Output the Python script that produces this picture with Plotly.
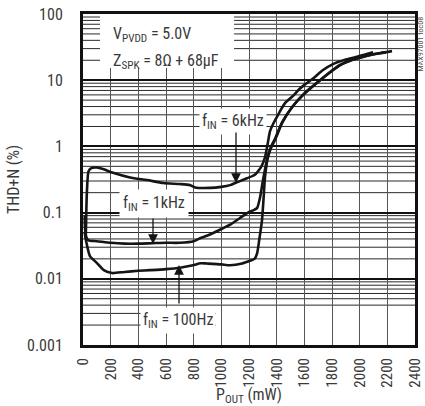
import math
import plotly.graph_objects as go

# ---------------- data ----------------
p_6k = [20, 28, 40, 60, 100, 150, 217, 340, 463, 580, 701, 773, 810, 918, 1000, 1063, 1100,
        1186, 1240, 1265, 1290, 1316, 1335, 1352, 1375, 1402, 1460, 1518, 1554, 1600, 1656,
        1730, 1807, 1900, 2024, 2097]
thd_6k = [0.04, 0.2, 0.42, 0.47, 0.48, 0.45, 0.40, 0.34, 0.31, 0.28, 0.27, 0.26, 0.24, 0.236,
          0.245, 0.26, 0.28, 0.33, 0.37, 0.42, 0.50, 0.69, 1.1, 1.7, 2.2, 2.8, 4.5, 5.8, 7.0,
          8.5, 10.3, 14, 17.5, 20.5, 24, 26.5]

p_1k = [12, 20, 40, 100, 200, 300, 400, 500, 600, 700, 800, 846, 900, 990, 1060, 1135, 1193,
        1230, 1258, 1280, 1300, 1320, 1337, 1360, 1388, 1439, 1511, 1600, 1714, 1800, 1858,
        1950, 2050, 2150, 2190]
thd_1k = [0.09, 0.045, 0.038, 0.037, 0.035, 0.034, 0.034, 0.0345, 0.035, 0.035, 0.037, 0.041,
          0.045, 0.055, 0.065, 0.083, 0.1, 0.108, 0.117, 0.17, 0.3, 0.5, 0.72, 1.0, 1.3, 2.3,
          3.9, 6.2, 10, 13.8, 16.8, 20.3, 23.3, 25.5, 26.3]

p_100 = [12, 25, 50, 101, 150, 210, 300, 400, 484, 600, 701, 795, 850, 896, 1000, 1063, 1150,
         1207, 1240, 1258, 1275, 1294, 1305, 1316, 1337, 1360, 1388, 1439, 1511, 1605, 1714,
         1800, 1858, 1950, 2050, 2150, 2234]
thd_100 = [0.05, 0.035, 0.022, 0.0173, 0.0135, 0.0122, 0.0127, 0.0132, 0.0135, 0.014, 0.0147,
           0.016, 0.0172, 0.017, 0.0165, 0.016, 0.017, 0.0187, 0.02, 0.024, 0.04, 0.077, 0.16,
           0.35, 0.69, 0.95, 1.25, 2.25, 3.9, 6.5, 10, 14, 17, 20.5, 23.5, 25.8, 27.5]

x_ticks = list(range(0, 2401, 200))
y_ticks = [0.001, 0.01, 0.1, 1, 10, 100]
y_tick_text = ["0.001", "0.01", "0.1", "1", "10", "100"]

FONT = "Liberation Sans Narrow, Roboto Condensed, Arial Narrow, DejaVu Sans Condensed, sans-serif"
TXT = "#3a3a3a"

fig = go.Figure()
for px, py in [(p_6k, thd_6k), (p_1k, thd_1k), (p_100, thd_100)]:
    fig.add_trace(go.Scatter(x=px, y=py, mode="lines",
                             line=dict(color="#151515", width=2.6, shape="spline", smoothing=0.6),
                             showlegend=False, hoverinfo="skip"))

# minor horizontal grid lines (log decades), drawn as shapes (data units)
shapes = []
for d in range(-3, 2):
    for m in range(2, 10):
        v = m * 10 ** d
        x1 = 960 if (d == -3 and m in (2, 3)) else 2400
        shapes.append(dict(type="line", xref="x", yref="y", x0=0, x1=x1, y0=v, y1=v,
                           line=dict(color="#2a2a2a", width=1), layer="below"))
# white box behind the conditions text
shapes.append(dict(type="rect", xref="x", yref="y", x0=123, x1=1092, y0=15.3, y1=100,
                   fillcolor="white", line=dict(width=0), layer="above"))

annotations = [
    dict(x=200, y=1.69, xref="x", yref="y", text="V<sub>PVDD</sub> = 5.0V",
         showarrow=False, xanchor="left", font=dict(family=FONT, size=16, color=TXT)),
    dict(x=200, y=1.28, xref="x", yref="y", text="Z<sub>SPK</sub> = 8Ω + 68µF",
         showarrow=False, xanchor="left", font=dict(family=FONT, size=16, color=TXT)),
    dict(x=1084, y=0.37, xref="x", yref="y", text="f<sub>IN</sub> = 6kHz",
         showarrow=False, bgcolor="white", borderpad=2, font=dict(family=FONT, size=16, color=TXT)),
    dict(x=513, y=-0.87, xref="x", yref="y", text="f<sub>IN</sub> = 1kHz",
         showarrow=False, bgcolor="white", borderpad=3, font=dict(family=FONT, size=16, color=TXT)),
    dict(x=687, y=-2.636, xref="x", yref="y", text="f<sub>IN</sub> = 100Hz",
         showarrow=False, bgcolor="white", borderpad=2, font=dict(family=FONT, size=16, color=TXT)),
    # arrows
    dict(x=1106, y=-0.553, xref="x", yref="y", text="", showarrow=True, ax=0, ay=-52,
         arrowhead=2, arrowsize=1.5, arrowwidth=1.3, arrowcolor="#151515"),
    dict(x=506, y=-1.474, xref="x", yref="y", text="", showarrow=True, ax=0, ay=-27,
         arrowhead=2, arrowsize=1.5, arrowwidth=1.3, arrowcolor="#151515"),
    dict(x=694, y=-1.792, xref="x", yref="y", text="", showarrow=True, ax=0, ay=40,
         arrowhead=2, arrowsize=1.5, arrowwidth=1.3, arrowcolor="#151515"),
    dict(x=1, y=1, xref="paper", yref="paper", text="MAX97001 toc08", textangle=-90,
         showarrow=False, xanchor="center", yanchor="top", xshift=5, yshift=-1,
         font=dict(family=FONT, size=8, color="#555")),
]

fig.update_layout(
    width=425, height=406,
    margin=dict(l=83, r=10, t=14, b=61),
    paper_bgcolor="white", plot_bgcolor="white",
    shapes=shapes, annotations=annotations,
    font=dict(family=FONT, size=16, color=TXT),
)
fig.update_xaxes(
    range=[0, 2400], tickvals=x_ticks, ticktext=[str(v) for v in x_ticks], tickangle=-90,
    showgrid=True, gridcolor="#555", gridwidth=1.2,
    showline=True, linecolor="#111", linewidth=3, mirror=True, ticks="", zeroline=False,
    tickfont=dict(family=FONT, size=15, color=TXT), ticklabelstandoff=4,
    ticklabeloverflow="allow",
    title=dict(text="P<sub>OUT</sub> (mW)", font=dict(family=FONT, size=16, color=TXT), standoff=5),
    automargin=False,
)
fig.update_yaxes(
    type="log", range=[-3, 2], tickvals=y_ticks, ticktext=y_tick_text,
    showgrid=True, gridcolor="#111", gridwidth=1.6,
    showline=True, linecolor="#111", linewidth=3, mirror=True, ticks="", zeroline=False,
    tickfont=dict(family=FONT, size=16, color=TXT), ticklabelstandoff=14,
    ticklabeloverflow="allow",
    title=dict(text="THD+N (%)", font=dict(family=FONT, size=16, color=TXT), standoff=4),
    automargin=False,
)

# remove the default 8px page margin so the figure fills the 425x406 window exactly
fig.write_html("out.html", config={"displayModeBar": False},
               post_script="document.body.style.margin='0px';")
